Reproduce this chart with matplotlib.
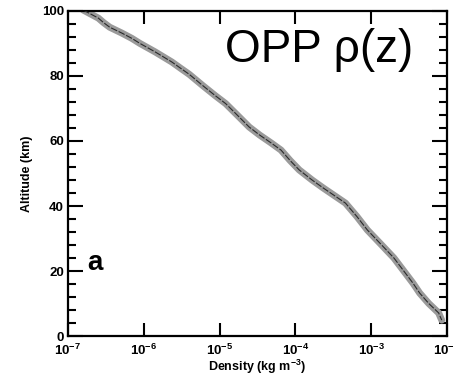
import numpy as np
import matplotlib
matplotlib.use('Agg')
import matplotlib.pyplot as plt
from matplotlib.ticker import FixedLocator, FixedFormatter, MultipleLocator

plt.rcParams['font.family'] = ['Liberation Sans', 'DejaVu Sans']
plt.rcParams['mathtext.default'] = 'regular'

# 读图得到的曲线：高度 (km) 和 log10(密度)
altitude = [100.3, 98.8, 97.8, 96.4, 95.0, 93.2, 91.6, 90.0, 87.4, 84.3,
            82.3, 80.5, 77.0, 74.0, 71.5, 67.8, 64.3, 61.8, 59.4, 57.2,
            54.0, 51.1, 48.0, 45.5, 40.9, 36.8, 32.6, 28.2, 24.0, 20.0,
            16.3, 13.2, 10.0, 7.1, 4.9]
log_density = [-6.80, -6.68, -6.60, -6.53, -6.45, -6.29, -6.16, -6.05, -5.85, -5.63,
               -5.51, -5.40, -5.22, -5.06, -4.92, -4.76, -4.61, -4.47, -4.32, -4.19,
               -4.07, -3.95, -3.78, -3.63, -3.34, -3.19, -3.05, -2.87, -2.70, -2.57,
               -2.45, -2.36, -2.24, -2.11, -2.07]
density = 10 ** np.array(log_density)

x_ticks = [1e-7, 1e-6, 1e-5, 1e-4, 1e-3, 1e-2]
x_tick_labels = ['10$^{-7}$', '10$^{-6}$', '10$^{-5}$', '10$^{-4}$', '10$^{-3}$', '10$^{-2}$']

fig = plt.figure(figsize=(4.54, 3.78), dpi=100)
ax = fig.add_axes([0.1498, 0.111, 0.8348, 0.86])

ax.plot(density, altitude, color='#9a9a9a', lw=5, solid_capstyle='round',
        solid_joinstyle='round', zorder=2)
ax.plot(density, altitude, color='#2a2a2a', lw=0.8, ls=(0, (6, 1.5)), zorder=3)

ax.set_xscale('log')
ax.set_xlim(1e-7, 1e-2)
ax.set_ylim(0, 100)

ax.xaxis.set_major_locator(FixedLocator(x_ticks))
ax.xaxis.set_major_formatter(FixedFormatter(x_tick_labels))
ax.xaxis.set_minor_locator(FixedLocator([]))
ax.yaxis.set_major_locator(MultipleLocator(20))
ax.yaxis.set_minor_locator(MultipleLocator(4))

ax.tick_params(which='both', direction='in', top=True, right=True, width=1.5,
               labelsize=9.5)
ax.tick_params(axis='y', which='major', length=10.8, pad=3)
ax.tick_params(axis='y', which='minor', length=5.8)
ax.tick_params(axis='x', which='major', length=9.4, pad=5)
for lab in ax.get_xticklabels() + ax.get_yticklabels():
    lab.set_fontweight('bold')
for s in ax.spines.values():
    s.set_linewidth(1.6)

ax.set_xlabel('Density (kg m$^{-3}$)', fontsize=9, fontweight='bold', labelpad=0)
ax.set_ylabel('Altitude (km)', fontsize=9, fontweight='bold', labelpad=6)

ax.text(0.414, 0.88, 'OPP ρ(z)', transform=ax.transAxes, fontsize=33,
        va='center', ha='left')
ax.text(0.05, 0.225, 'a', transform=ax.transAxes, fontsize=20,
        fontweight='bold', va='center', ha='left')

fig.savefig('out.png', dpi=100)
